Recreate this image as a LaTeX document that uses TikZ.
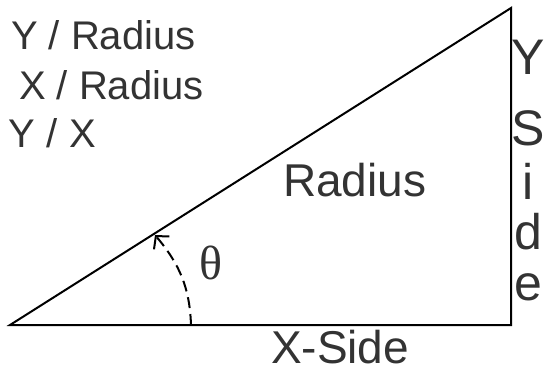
\documentclass[tikz,border=0pt]{standalone}
\usepackage{fontspec}
\setmainfont{Liberation Sans}
\newfontfamily\thetafont{Liberation Serif}
\usetikzlibrary{arrows.meta}
\definecolor{txtgray}{HTML}{333333}
\begin{document}
\begin{tikzpicture}[x=1pt,y=1pt,line width=2pt,
  lbl/.style={text=txtgray,inner sep=0pt,anchor=base west},
  ratio/.style={lbl,font=\fontsize{40}{48}\selectfont},
  side/.style={lbl,font=\fontsize{46}{54}\selectfont},
  letter/.style={text=txtgray,inner sep=0pt,anchor=base,font=\fontsize{50}{60}\selectfont},
  angarc/.style={dash pattern=on 11pt off 6pt,-{Straight Barb[length=9pt,width=20pt]}}]
 \useasboundingbox (0,0) rectangle (548,372);
 \coordinate (o) at (10,47); \coordinate (r) at (511,47); \coordinate (t) at (511,364);
 \draw[line join=miter] (o)--(r)--(t)--cycle;
 \coordinate (a0) at (191,47); \coordinate (a1) at (155,137);
 \draw[angarc] (a0) to[out=92,in=-50] (a1);
 \node[text=txtgray,font=\fontsize{48}{56}\thetafont] (th) at (211,109) {θ};
 \node[ratio] (yr) at (10,322) {Y / Radius};
 \node[ratio] (xr) at (18,272) {X / Radius};
 \node[ratio] (yx) at (8,224) {Y / X};
 \node[side] (rad) at (282,175) {Radius};
 \node[side] (xs) at (270,9) {X-Side};
 \foreach \ch/\yy [count=\k] in {Y/297,S/226,i/172,d/122,e/72}
  \node[letter] (ys\k) at (528,\yy) {\ch};
\end{tikzpicture}
\end{document}
